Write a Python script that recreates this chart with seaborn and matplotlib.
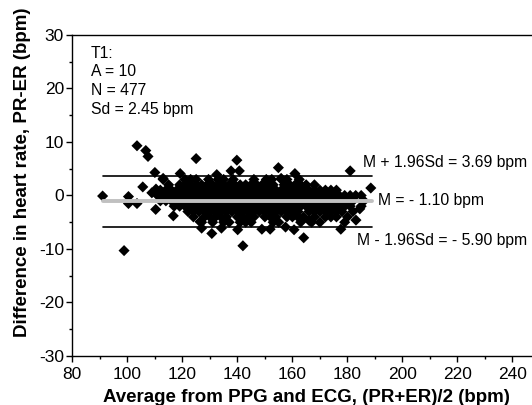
import numpy as np
import pandas as pd
import seaborn as sns
import matplotlib.pyplot as plt
from matplotlib.ticker import MultipleLocator

# Bland-Altman data, one list of x values per difference level
diff_levels = [3, 2, 1, 0, -1, -2, -3, -4, -5]
row_x = {
    3: [113, 121, 123, 125, 129.5, 133, 135, 138.5, 146, 150.5, 152.5, 156, 158, 162.5],
    2: [115, 119, 121, 123, 125, 127, 129, 131, 133, 135, 137, 139, 141, 143, 145, 147,
        149, 151, 153, 157, 159, 161, 163, 165, 168],
    1: [112, 114, 116, 118, 120, 122, 124, 126, 128, 130, 132, 134, 136, 138, 140, 142, 144,
        146, 148, 150, 152, 154, 156, 158, 160, 162, 164, 166, 168, 170, 172, 174, 176],
    0: [111, 113, 115, 117, 119, 121, 123, 125, 127, 129, 131, 133, 135, 137, 139, 141, 143, 145,
        147, 149, 151, 153, 155, 157, 159, 161, 163, 165, 167, 169, 171, 173, 175, 177, 179, 181,
        183, 185],
    -1: [112, 114, 116, 118, 120, 122, 124, 126, 128, 130, 132, 134, 136, 138, 140, 142, 144, 146,
         148, 150, 152, 154, 156, 158, 160, 162, 164, 166, 168, 170, 172, 174, 176, 178, 180, 182,
         186],
    -2: [117, 119, 121, 123, 125, 127, 129, 131, 133, 135, 137, 139, 141, 143, 145, 147, 149,
         151, 153, 155, 157, 159, 161, 163, 165, 167, 169, 171, 173, 175, 177, 179, 181, 185],
    -3: [122, 124, 126, 128, 130, 132, 134, 136, 138, 140, 142, 144, 146, 148, 150, 152, 154,
         156, 158, 160, 162, 166, 168, 170, 172, 174, 176, 178, 182],
    -4: [124, 128, 130, 132, 134, 136, 140, 142, 144, 146, 150, 152, 154, 158, 160, 162, 164,
         168, 172, 174, 176, 180],
    -5: [127, 131, 135, 137, 141, 143, 145, 153, 155, 163, 167, 170, 179],
}

# scattered points outside the dense band
out_x = [91, 103.5, 106.7, 107.5, 110, 105.6, 108.9, 100.4, 100.4, 103.5, 110.3, 98.8, 110.4,
         113, 116.7, 119.2, 125, 126.4, 127, 130.7, 132.5, 134.2, 137.7, 139.8, 140.7, 140.1, 142,
         148.9, 151.9, 154.9, 155.9, 157.5, 160.6, 160.9, 160.6, 164.1, 166.1, 177.6, 181,
         183.1, 184.5, 188.5]
out_y = [-0.1, 9.3, 8.4, 7.3, 4.3, 1.6, 0.5, -0.2, -1.5, -1.5, -2.6, -10.3, 1.2,
         3.2, -3.8, 4.1, 6.9, -4.9, -6.1, -7.1, 3.9, -6.1, 4.6, 6.6, 4.6, -6.4, -9.4,
         -6.3, -6.3, 5.2, 3.2, -5.9, -3.0, 4.1, -6.4, -7.9, -4.7, -6.3, 4.6,
         -4.6, -2.5, 1.4]

mean_diff = -1.10
upper_loa = 3.69
lower_loa = -5.90
line_start, line_end = 91, 189

xs, ys = [], []
for lvl in diff_levels:
    xs += row_x[lvl]
    ys += [lvl] * len(row_x[lvl])
xs += out_x
ys += out_y
df = pd.DataFrame({"avg": xs, "diff": ys})

sns.set_style("ticks")
plt.rcParams['font.family'] = ['Liberation Sans', 'DejaVu Sans']
plt.rcParams['axes.unicode_minus'] = False
plt.rcParams['text.color'] = 'black'
plt.rcParams['axes.labelcolor'] = 'black'
plt.rcParams['xtick.color'] = 'black'
plt.rcParams['ytick.color'] = 'black'

fig = plt.figure(figsize=(5.32, 4.05), dpi=100)
ax = fig.add_axes([0.136, 0.121, 0.879, 0.7926])

ax.plot([line_start, line_end], [upper_loa, upper_loa], color='black', lw=1.2, zorder=1)
ax.plot([line_start, line_end], [lower_loa, lower_loa], color='black', lw=1.2, zorder=1)
sns.scatterplot(data=df, x="avg", y="diff", marker='D', s=32, color='black',
                edgecolor='none', linewidth=0, ax=ax, zorder=2)
ax.plot([line_start, line_end], [mean_diff, mean_diff], color='#c0c0c0', lw=2.8, zorder=3)

ax.text(185.5, 6.1, "M + 1.96Sd = 3.69 bpm", fontsize=11.3, va='center')
ax.text(191, -1.0, "M = - 1.10 bpm", fontsize=11.3, va='center')
ax.text(183.6, -8.5, "M - 1.96Sd = - 5.90 bpm", fontsize=11.3, va='center')
ax.text(0.04, 0.967, "T1:\nA = 10\nN = 477\nSd = 2.45 bpm", transform=ax.transAxes,
        fontsize=11.3, va='top', linespacing=1.31)

ax.set_xlim(80, 250)
ax.set_ylim(-30, 30)
ax.xaxis.set_major_locator(MultipleLocator(20))
ax.xaxis.set_minor_locator(MultipleLocator(10))
ax.yaxis.set_major_locator(MultipleLocator(10))
ax.yaxis.set_minor_locator(MultipleLocator(5))
ax.tick_params(which='major', direction='out', length=4, width=1, labelsize=12.5, pad=2)
ax.tick_params(axis='x', which='major', pad=4)
ax.tick_params(which='minor', direction='out', length=2.5, width=1)
for s in ['left', 'bottom', 'top']:
    ax.spines[s].set_linewidth(1)
    ax.spines[s].set_color('black')
ax.spines['right'].set_visible(False)

ax.set_xlabel("Average from PPG and ECG, (PR+ER)/2 (bpm)", fontsize=13.5, fontweight='bold', labelpad=5)
ax.set_ylabel("Difference in heart rate, PR-ER (bpm)", fontsize=13.5, fontweight='bold')
ax.yaxis.set_label_coords(-0.088, 0.573)

fig.savefig('out.png', dpi=100)
